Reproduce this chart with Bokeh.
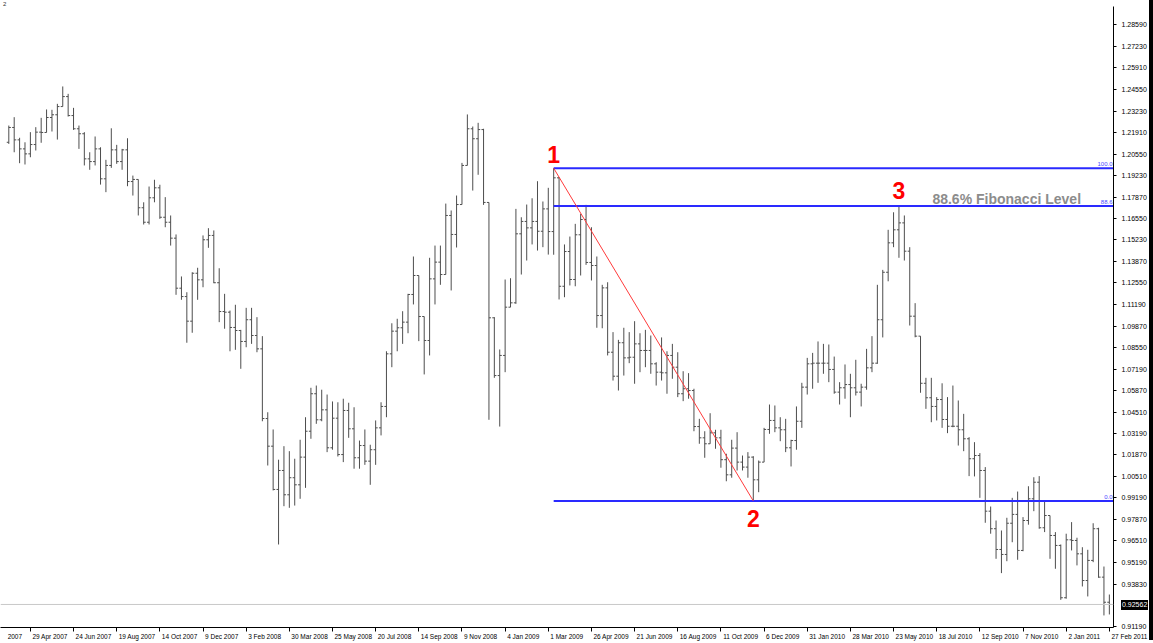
import pandas as pd
from bokeh.plotting import figure
from bokeh.models import (ColumnDataSource, FixedTicker, LinearAxis, Range1d, Span,
                          CustomJSTickFormatter, PrintfTickFormatter, Div)
from bokeh.layouts import row
from bokeh.embed import file_html
from bokeh.resources import INLINE
from bokeh.core.properties import value

# ---------------- data (weekly OHLC, first bar week of 1 Apr 2007) ----------------
first_week = "2007-04-01"

opens = [1.2129, 1.2221, 1.2144, 1.2088, 1.2057, 1.2115, 1.2192, 1.2190, 1.2283, 1.2300,
         1.2351, 1.2413, 1.2295, 1.2213, 1.2182, 1.2026, 1.2009, 1.2088, 1.1902, 1.1985,
         1.2082, 1.2009, 1.2082, 1.1885, 1.1898, 1.1722, 1.1632, 1.1784, 1.1846, 1.1663,
         1.1632, 1.1533, 1.1222, 1.1170, 1.1017, 1.1315, 1.1274, 1.1523, 1.1550, 1.1256,
         1.1077, 1.1073, 1.0978, 1.0959, 1.0891, 1.1026, 1.0928, 1.0845, 1.0412, 1.0240,
         0.9971, 1.0089, 0.9938, 1.0044, 1.0000, 1.0172, 1.0333, 1.0566, 1.0404, 1.0466,
         1.0230, 1.0414, 1.0188, 1.0462, 1.0348, 1.0168, 1.0244, 1.0147, 1.0218, 1.0354,
         1.0487, 1.0814, 1.0955, 1.0976, 1.1011, 1.1183, 1.1301, 1.1046, 1.0897, 1.1280,
         1.1384, 1.1307, 1.1674, 1.1556, 1.1742, 1.1985, 1.2213, 1.2151, 1.2208, 1.1755,
         1.1038, 1.0679, 1.0804, 1.1104, 1.1131, 1.1560, 1.1637, 1.1597, 1.1637, 1.1576,
         1.1715, 1.1574, 1.1908, 1.1234, 1.1450, 1.1276, 1.1554, 1.1649, 1.1382, 1.1363,
         1.1052, 1.1224, 1.0824, 1.0675, 1.0883, 1.0789, 1.0793, 1.0876, 1.0835, 1.0835,
         1.0752, 1.0700, 1.0696, 1.0804, 1.0731, 1.0566, 1.0597, 1.0586, 1.0362, 1.0292,
         1.0255, 1.0323, 1.0292, 1.0156, 1.0062, 1.0228, 1.0141, 1.0110, 1.0172, 1.0031,
         1.0141, 1.0344, 1.0400, 1.0354, 1.0342, 1.0230, 1.0275, 1.0395, 1.0607, 1.0752,
         1.0756, 1.0756, 1.0756, 1.0717, 1.0576, 1.0603, 1.0623, 1.0603, 1.0576, 1.0607,
         1.0727, 1.0756, 1.1026, 1.1321, 1.1504, 1.1585, 1.1628, 1.1452, 1.1048, 1.0924,
         1.0631, 1.0541, 1.0487, 1.0530, 1.0406, 1.0364, 1.0364, 1.0342, 1.0286, 1.0162,
         1.0182, 1.0089, 0.9836, 0.9727, 0.9598, 0.9567, 0.9761, 0.9816, 0.9592, 0.9778,
         0.9913, 1.0016, 0.9733, 0.9809, 0.9685, 0.9623, 0.9298, 0.9658, 0.9654, 0.9571,
         0.9405, 0.9530, 0.9727, 0.9426, 0.9270]

highs = [1.2233, 1.2285, 1.2157, 1.2129, 1.2192, 1.2223, 1.2281, 1.2333, 1.2331, 1.2368,
         1.2476, 1.2430, 1.2343, 1.2233, 1.2192, 1.2067, 1.2165, 1.2098, 1.2020, 1.2216,
         1.2113, 1.2088, 1.2154, 1.1922, 1.1898, 1.1756, 1.1854, 1.1896, 1.1865, 1.1788,
         1.1674, 1.1556, 1.1295, 1.1197, 1.1321, 1.1349, 1.1550, 1.1595, 1.1581, 1.1346,
         1.1187, 1.1083, 1.1119, 1.0963, 1.1100, 1.1100, 1.1042, 1.0924, 1.0451, 1.0344,
         1.0156, 1.0240, 1.0209, 1.0162, 1.0280, 1.0420, 1.0603, 1.0617, 1.0591, 1.0561,
         1.0518, 1.0513, 1.0535, 1.0510, 1.0482, 1.0275, 1.0344, 1.0249, 1.0400, 1.0513,
         1.0830, 1.1004, 1.1032, 1.1079, 1.1187, 1.1419, 1.1276, 1.1046, 1.1411, 1.1487,
         1.1487, 1.1748, 1.1705, 1.1798, 1.2001, 1.2302, 1.2227, 1.2250, 1.2213, 1.1742,
         1.1042, 1.0841, 1.1276, 1.1284, 1.1715, 1.1663, 1.1742, 1.1781, 1.1887, 1.1761,
         1.1846, 1.1968, 1.1912, 1.1494, 1.1543, 1.1622, 1.1684, 1.1740, 1.1601, 1.1419,
         1.1243, 1.1259, 1.0949, 1.0901, 1.0976, 1.0949, 1.1017, 1.0942, 1.0963, 1.0928,
         1.0762, 1.0916, 1.0830, 1.0876, 1.0824, 1.0706, 1.0694, 1.0597, 1.0410, 1.0333,
         1.0445, 1.0342, 1.0342, 1.0193, 1.0280, 1.0327, 1.0182, 1.0203, 1.0178, 1.0151,
         1.0354, 1.0499, 1.0493, 1.0420, 1.0410, 1.0280, 1.0487, 1.0634, 1.0789, 1.0820,
         1.0891, 1.0876, 1.0872, 1.0797, 1.0638, 1.0748, 1.0690, 1.0777, 1.0628, 1.0845,
         1.0924, 1.1243, 1.1336, 1.1585, 1.1694, 1.1732, 1.1674, 1.1477, 1.1129, 1.0924,
         1.0665, 1.0665, 1.0545, 1.0631, 1.0545, 1.0617, 1.0524, 1.0441, 1.0296, 1.0265,
         1.0197, 1.0110, 0.9865, 0.9778, 0.9716, 0.9795, 0.9919, 0.9958, 0.9799, 0.9991,
         1.0047, 1.0054, 0.9903, 0.9809, 0.9706, 0.9629, 0.9696, 0.9768, 0.9671, 0.9612,
         0.9596, 0.9761, 0.9733, 0.9492, 0.9318]

lows = [1.2119, 1.2067, 1.1999, 1.1991, 1.2036, 1.2078, 1.2126, 1.2244, 1.2196, 1.2146,
        1.2356, 1.2289, 1.2206, 1.2088, 1.1985, 1.1958, 1.1985, 1.1866, 1.1819, 1.1970,
        1.1995, 1.1958, 1.1856, 1.1798, 1.1674, 1.1618, 1.1618, 1.1756, 1.1653, 1.1601,
        1.1487, 1.1181, 1.1150, 1.0883, 1.0945, 1.1150, 1.1228, 1.1473, 1.1253, 1.1011,
        1.0970, 1.0830, 1.0839, 1.0721, 1.0855, 1.0876, 1.0824, 1.0395, 1.0120, 0.9965,
        0.9629, 0.9867, 0.9857, 0.9871, 0.9913, 0.9981, 1.0286, 1.0379, 1.0395, 1.0203,
        1.0218, 1.0176, 1.0141, 1.0292, 1.0100, 1.0100, 1.0124, 1.0000, 1.0124, 1.0307,
        1.0420, 1.0731, 1.0830, 1.0876, 1.0942, 1.1121, 1.0893, 1.0686, 1.0804, 1.1121,
        1.1243, 1.1320, 1.1208, 1.1475, 1.1742, 1.1995, 1.1829, 1.1927, 1.1740, 1.0404,
        1.0665, 1.0362, 1.0700, 1.1121, 1.1125, 1.1307, 1.1394, 1.1494, 1.1456, 1.1477,
        1.1431, 1.1430, 1.1152, 1.1166, 1.1239, 1.1234, 1.1301, 1.1367, 1.1270, 1.0976,
        1.0973, 1.0804, 1.0648, 1.0586, 1.0679, 1.0756, 1.0628, 1.0700, 1.0731, 1.0690,
        1.0617, 1.0648, 1.0566, 1.0659, 1.0545, 1.0520, 1.0535, 1.0333, 1.0255, 1.0168,
        1.0259, 1.0224, 1.0106, 1.0022, 1.0044, 1.0089, 1.0089, 1.0044, 0.9900, 0.9954,
        1.0141, 1.0317, 1.0327, 1.0271, 1.0203, 1.0114, 1.0218, 1.0354, 1.0561, 1.0597,
        1.0634, 1.0690, 1.0638, 1.0566, 1.0499, 1.0535, 1.0420, 1.0555, 1.0487, 1.0591,
        1.0700, 1.0752, 1.0916, 1.1265, 1.1477, 1.1411, 1.1394, 1.0990, 1.0917, 1.0572,
        1.0472, 1.0389, 1.0400, 1.0354, 1.0321, 1.0358, 1.0244, 1.0209, 1.0054, 1.0052,
        0.9919, 0.9764, 0.9696, 0.9540, 0.9451, 0.9525, 0.9643, 0.9534, 0.9587, 0.9752,
        0.9836, 0.9727, 0.9706, 0.9540, 0.9478, 0.9285, 0.9292, 0.9592, 0.9499, 0.9368,
        0.9306, 0.9519, 0.9422, 0.9188, 0.9194]

closes = [1.2221, 1.2144, 1.2088, 1.2057, 1.2115, 1.2192, 1.2190, 1.2283, 1.2300, 1.2351,
          1.2413, 1.2295, 1.2213, 1.2182, 1.2026, 1.2009, 1.2088, 1.1902, 1.1985, 1.2082,
          1.2009, 1.2082, 1.1885, 1.1898, 1.1722, 1.1632, 1.1784, 1.1846, 1.1663, 1.1632,
          1.1533, 1.1222, 1.1170, 1.1017, 1.1315, 1.1274, 1.1523, 1.1550, 1.1256, 1.1077,
          1.1073, 1.0978, 1.0959, 1.0891, 1.1026, 1.0928, 1.0845, 1.0412, 1.0240, 0.9971,
          1.0089, 0.9938, 1.0044, 1.0000, 1.0172, 1.0333, 1.0566, 1.0404, 1.0466, 1.0230,
          1.0414, 1.0188, 1.0462, 1.0348, 1.0168, 1.0244, 1.0147, 1.0218, 1.0354, 1.0487,
          1.0814, 1.0955, 1.0976, 1.1011, 1.1183, 1.1301, 1.1046, 1.0897, 1.1280, 1.1384,
          1.1307, 1.1674, 1.1556, 1.1742, 1.1985, 1.2213, 1.2151, 1.2208, 1.1755, 1.1038,
          1.0679, 1.0804, 1.1104, 1.1131, 1.1560, 1.1637, 1.1597, 1.1637, 1.1576, 1.1715,
          1.1574, 1.1908, 1.1234, 1.1450, 1.1276, 1.1554, 1.1649, 1.1382, 1.1363, 1.1052,
          1.1224, 1.0824, 1.0675, 1.0883, 1.0789, 1.0793, 1.0876, 1.0835, 1.0835, 1.0752,
          1.0700, 1.0696, 1.0804, 1.0731, 1.0566, 1.0597, 1.0586, 1.0362, 1.0292, 1.0255,
          1.0323, 1.0292, 1.0156, 1.0062, 1.0228, 1.0141, 1.0110, 1.0172, 1.0031, 1.0141,
          1.0344, 1.0400, 1.0354, 1.0342, 1.0230, 1.0275, 1.0395, 1.0607, 1.0752, 1.0756,
          1.0756, 1.0756, 1.0717, 1.0576, 1.0603, 1.0623, 1.0603, 1.0576, 1.0607, 1.0727,
          1.0756, 1.1026, 1.1321, 1.1504, 1.1585, 1.1628, 1.1452, 1.1048, 1.0924, 1.0631,
          1.0541, 1.0487, 1.0530, 1.0406, 1.0364, 1.0364, 1.0342, 1.0286, 1.0162, 1.0182,
          1.0089, 0.9836, 0.9727, 0.9598, 0.9567, 0.9761, 0.9816, 0.9592, 0.9778, 0.9913,
          1.0016, 0.9733, 0.9809, 0.9685, 0.9623, 0.9298, 0.9658, 0.9654, 0.9571, 0.9405,
          0.9530, 0.9727, 0.9426, 0.9270, 0.92562]

current_price = 0.92562

price_ticks = [1.28590, 1.27230, 1.25910, 1.24550, 1.23230, 1.21910, 1.20550, 1.19230,
               1.17870, 1.16550, 1.15230, 1.13870, 1.12550, 1.11190, 1.09870, 1.08550,
               1.07190, 1.05870, 1.04510, 1.03190, 1.01870, 1.00510, 0.99190, 0.97870,
               0.96510, 0.95190, 0.93830, 0.91190]

# Fibonacci swing points (bar indices)
swing_high_bar = 101   # point 1
swing_low_bar = 138    # point 2
retrace_bar = 165      # point 3
fib_ratios = [1.0, 0.886, 0.0]
fib_names = ["100.0", "88.6", "0.0"]

# ---------------- derived ----------------
n = len(closes)
idx = list(range(n))
bar_top = [max(o, h, l, c) for o, h, l, c in zip(opens, highs, lows, closes)]
bar_bot = [min(o, h, l, c) for o, h, l, c in zip(opens, highs, lows, closes)]

start = pd.Timestamp(first_week)
date_tick_idx = list(range(-4, n, 8))
date_labels = [(start + pd.Timedelta(weeks=k)).strftime("%d %b %Y").lstrip("0") for k in date_tick_idx]

fib_hi = highs[swing_high_bar]
fib_lo = lows[swing_low_bar]
fib_levels = [fib_lo + r * (fib_hi - fib_lo) for r in fib_ratios]

X0, X1 = -1.54, 204.77
Y0, Y1 = 0.9113, 1.2973
FW, FH, TOP = 1113, 621, 6
FONT = "Liberation Sans"
DATE_FS = 6.5

# Date labels are left-aligned at their tick (as in MetaTrader): shift the centred
# axis labels by half their estimated width (or pad with no-break spaces at the right edge);
# a label that starts left of the chart only shows the part that is on the page.
_w = {" ": .278, "A": .667, "D": .722, "F": .611, "J": .5, "M": .833, "N": .722, "O": .778,
      "S": .667, "a": .556, "b": .556, "c": .5, "e": .556, "g": .556, "l": .222, "n": .556,
      "o": .556, "p": .556, "r": .333, "t": .278, "u": .556, "v": .5, "y": .5}


def text_w(t):
    return sum(_w.get(ch, .556) for ch in t) * DATE_FS


px_per_x = FW / (X1 - X0)
nbsp_w = 0.278 * DATE_FS
lab_pos, lab_txt = [], []
for k, t in zip(date_tick_idx, date_labels):
    tick_px = (k - X0) * px_per_x
    left = tick_px + 2
    if left < 0:
        words = t.split(" ")
        while len(words) > 1 and left < 0:
            left += text_w(words[0] + " ")
            words = words[1:]
        t = " ".join(words)
    w = text_w(t)
    centre = left + w / 2
    pad = 0
    if centre > FW - 1:
        centre = tick_px + 2
        pad = int(round((w + 4 - 2 * (centre - tick_px)) / nbsp_w))
    lab_pos.append(X0 + centre / px_per_x)
    lab_txt.append("\u00a0" * pad + t)

p = figure(frame_width=FW, frame_height=FH,
           x_range=Range1d(X0, X1), y_range=Range1d(Y0, Y1),
           output_backend="svg", toolbar_location=None,
           x_axis_location=None, y_axis_location=None,
           min_border_left=0, min_border_top=TOP, min_border_right=35, min_border_bottom=13,
           background_fill_color="white", border_fill_color="white")
p.outline_line_color = None
p.grid.visible = False

# right price axis
ra = LinearAxis(ticker=FixedTicker(ticks=price_ticks, minor_ticks=[]),
                formatter=PrintfTickFormatter(format="%.5f"))
ra.axis_line_color = "#000000"
ra.major_tick_line_color = "#000000"
ra.major_tick_out = 3
ra.major_tick_in = 0
ra.minor_tick_line_color = None
ra.major_label_standoff = 5
ra.major_label_text_font = FONT
ra.major_label_text_font_size = "7px"
ra.major_label_text_color = "#000000"
p.add_layout(ra, "right")

# bottom axis 1: line + tick marks
ba = LinearAxis(ticker=FixedTicker(ticks=date_tick_idx, minor_ticks=[]),
                formatter=CustomJSTickFormatter(code="return ''"))
ba.axis_line_color = "#000000"
ba.major_tick_line_color = "#000000"
ba.major_tick_out = 4
ba.major_tick_in = 0
ba.minor_tick_line_color = None
ba.major_label_standoff = 0
ba.major_label_text_font_size = "0px"
p.add_layout(ba, "below")

# bottom axis 2: date labels
la = LinearAxis(ticker=FixedTicker(ticks=lab_pos, minor_ticks=[]),
                formatter=CustomJSTickFormatter(args=dict(pos=lab_pos, labs=lab_txt),
                                                code="const i = pos.indexOf(tick); return i >= 0 ? labs[i] : '';"))
la.axis_line_color = None
la.major_tick_line_color = None
la.minor_tick_line_color = None
la.major_tick_out = 0
la.major_tick_in = 0
la.major_label_standoff = 1
la.major_label_text_font = FONT
la.major_label_text_font_size = "%gpx" % DATE_FS
la.major_label_text_color = "#000000"
p.add_layout(la, "below")

# current price line
p.add_layout(Span(location=current_price, dimension="width", line_color="#c8c8c8", line_width=1))

# OHLC bars
src = ColumnDataSource(dict(x=idx, top=bar_top, bot=bar_bot, o=opens, c=closes,
                            xo=[i - 0.38 for i in idx], xc=[i + 0.38 for i in idx]))
bar_col = "#4d4d4d"
p.segment(x0="x", y0="bot", x1="x", y1="top", source=src, line_color=bar_col, line_width=1)
p.segment(x0="xo", y0="o", x1="x", y1="o", source=src, line_color=bar_col, line_width=1)
p.segment(x0="x", y0="c", x1="xc", y1="c", source=src, line_color=bar_col, line_width=1)

# Fibonacci levels
blue = "#2a2aff"
p.segment(x0=[swing_high_bar] * 3, y0=fib_levels, x1=[X1] * 3, y1=fib_levels,
          line_color=blue, line_width=2)
p.text(x=[X1] * 3, y=fib_levels, text=fib_names, x_offset=-1, y_offset=-2,
       text_align="right", text_baseline="bottom", text_font=value(FONT),
       text_font_size="6px", text_color="#4a4aff")
# trend line 1 -> 2
p.segment(x0=[swing_high_bar], y0=[fib_hi], x1=[swing_low_bar], y1=[fib_lo],
          line_color="#ff3b3b", line_width=1)

# point numbers
p.text(x=[swing_high_bar, swing_low_bar, retrace_bar],
       y=[fib_hi, fib_lo, highs[retrace_bar]],
       text=["1", "2", "3"], y_offset=[-14, 18, -16],
       text_align="center", text_baseline="middle", text_font=value(FONT),
       text_font_style="bold", text_font_size="23px", text_color="#ff0000")

p.text(x=[171.2], y=[fib_levels[1]], text=["88.6% Fibonacci Level"], y_offset=-7,
       text_align="left", text_baseline="middle", text_font=value(FONT),
       text_font_style="bold", text_font_size="14px", text_color="#8c8c8c")

# overlay: current price box on the price scale, window index, dark window edge
cp_y = TOP + (Y1 - current_price) / (Y1 - Y0) * FH
overlay_html = (
    '<div style="position:relative;width:1153px;height:640px;pointer-events:none;">'
    '<div style="position:absolute;left:2px;top:0px;font-family:\'Liberation Sans\';'
    'font-size:6px;line-height:8px;color:#333;">2</div>'
    '<div style="position:absolute;left:%dpx;top:%dpx;height:10px;padding:0 1px;'
    'background:#000;color:#fff;font-family:\'Liberation Sans\';font-size:7px;'
    'line-height:10px;">%.5f</div>'
    '<div style="position:absolute;left:1148px;top:0px;width:5px;height:640px;'
    'background:#000;"></div>'
    '</div>') % (FW + 7, int(round(cp_y - 4)), current_price)
overlay = Div(text=overlay_html, width=1153, height=640, margin=(0, 0, 0, -1148))

layout = row(p, overlay, spacing=0)

open("out.html", "w").write(file_html(layout, INLINE))
